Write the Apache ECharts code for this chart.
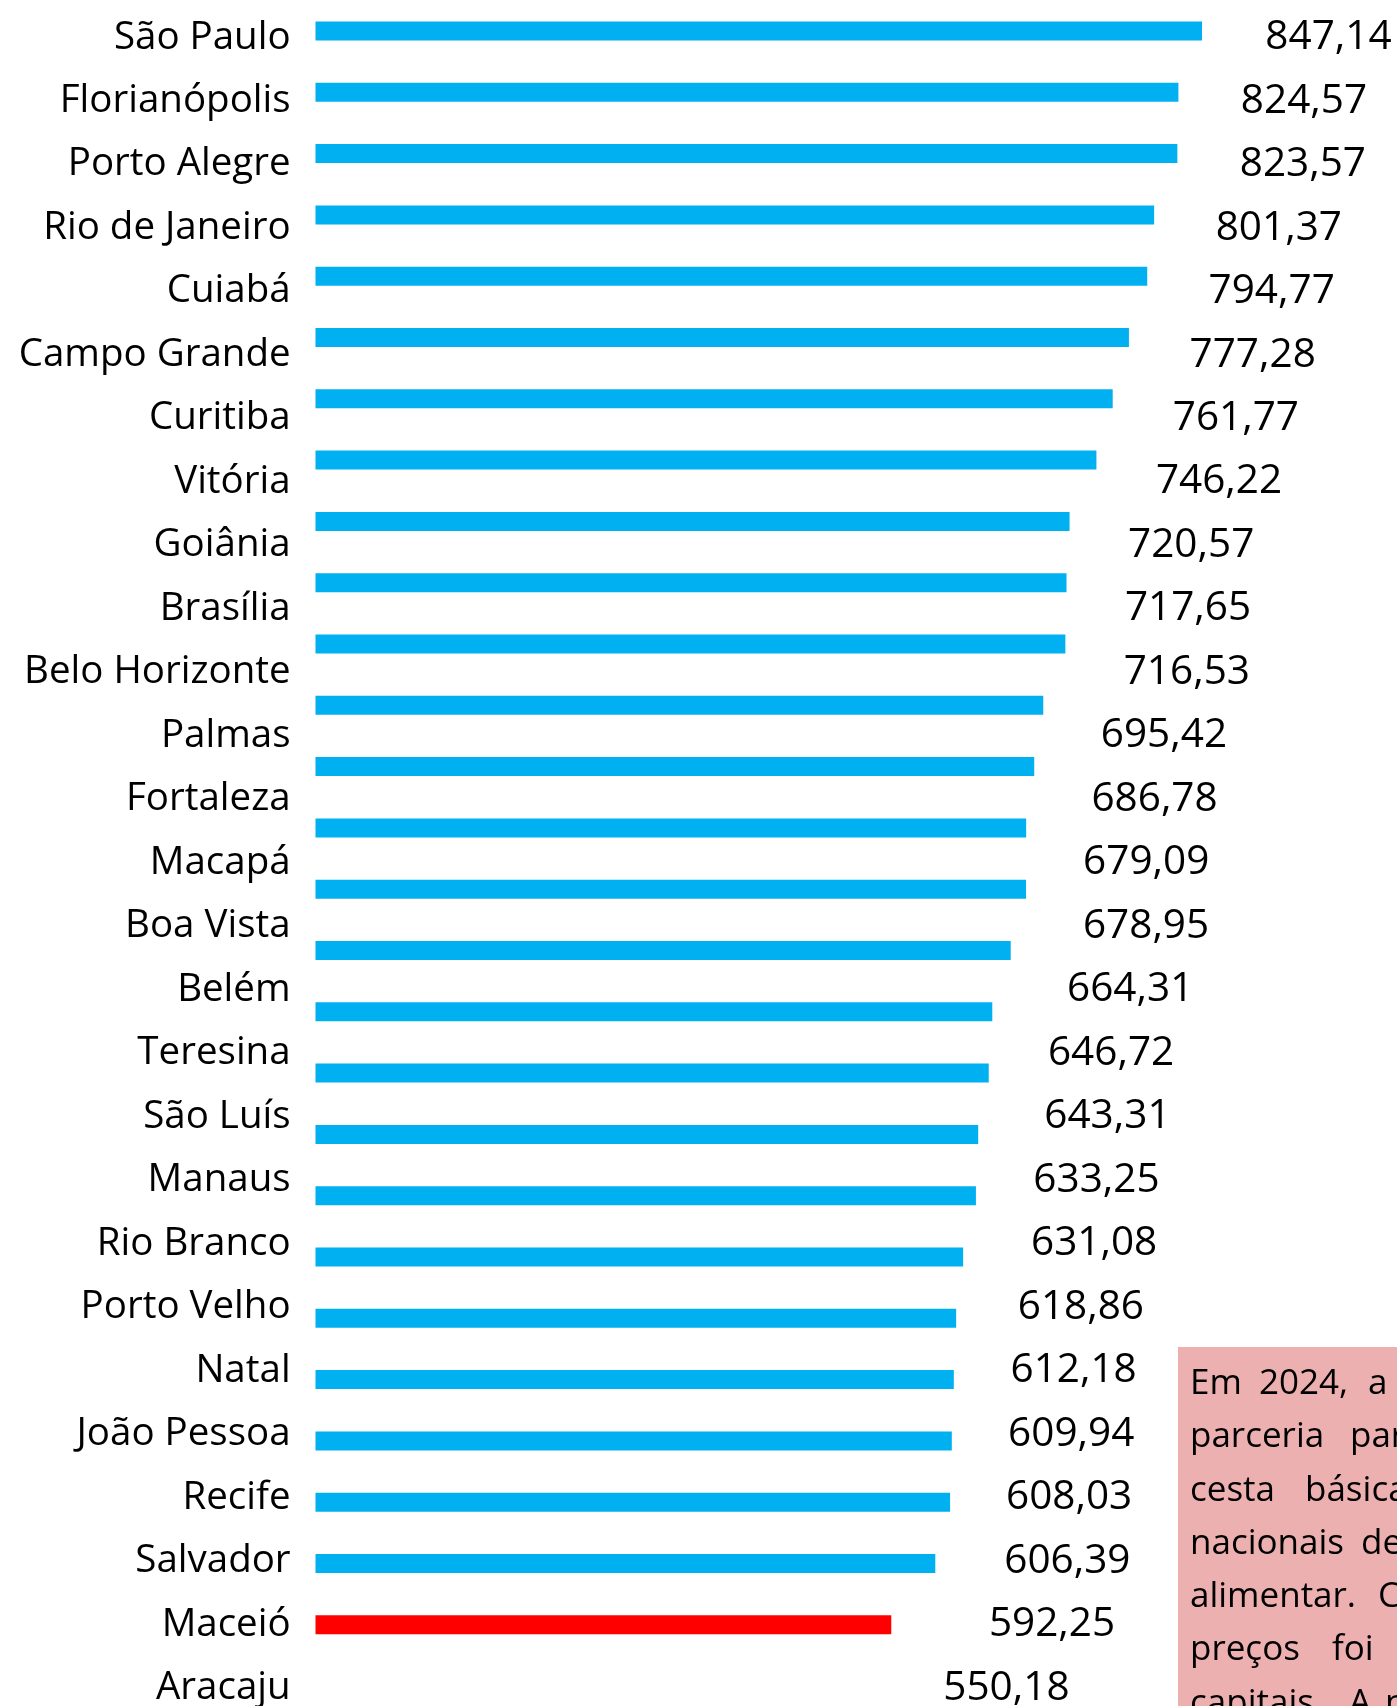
<!DOCTYPE html>
<html>
<head>
<meta charset="utf-8">
<script src="https://cdn.jsdelivr.net/npm/echarts@6/dist/echarts.min.js"></script>
<style>html,body{margin:0;padding:0;background:#fff}#c{width:1397px;height:1706px}</style>
</head>
<body>
<div id="c"></div>
<script>
const cities = ["São Paulo","Florianópolis","Porto Alegre","Rio de Janeiro","Cuiabá","Campo Grande","Curitiba","Vitória","Goiânia","Brasília","Belo Horizonte","Palmas","Fortaleza","Macapá","Boa Vista","Belém","Teresina","São Luís","Manaus","Rio Branco","Porto Velho","Natal","João Pessoa","Recife","Salvador","Maceió","Aracaju"];
const values = [847.14,824.57,823.57,801.37,794.77,777.28,761.77,746.22,720.57,717.65,716.53,695.42,686.78,679.09,678.95,664.31,646.72,643.31,633.25,631.08,618.86,612.18,609.94,608.03,606.39,592.25,550.18];
const highlightIndex = 26;
const noteLines = [
  ["Em","2024,","a","Conab"],
  ["parceria","para"],
  ["cesta","básica"],
  ["nacionais","de"],
  ["alimentar.","Com"],
  ["preços","foi"],
  ["capitais.","A","pesquisa"]
];
const noteWordX = [
  [1190,1259,1368,1400],
  [1190,1350],
  [1190,1305],
  [1190,1361],
  [1190,1378],
  [1190,1332],
  [1190,1349,1385]
];

const FONT = "'Open Sans', sans-serif";
const fmt = v => v.toFixed(2).replace('.', ',');

const chart = echarts.init(document.getElementById('c'), null, {renderer:'canvas'});

const graphics = [{
  type:'rect', shape:{x:1178, y:1347, width:260, height:400},
  style:{fill:'#EDB0B0'}, z:1
}];
noteLines.forEach((words, li) => {
  words.forEach((w, wi) => {
    graphics.push({
      type:'text', x:noteWordX[li][wi], y:1384 + li*53.3, z:2,
      style:{text:w, fill:'#000', font:`35px ${FONT}`, verticalAlign:'middle', align:'left'}
    });
  });
});

chart.setOption({
  animation:false,
  grid:[
    {left:315.5, top:0.35, width:1046.5, height:1655.1, outerBoundsMode:'none', containLabel:false},
    {left:346.6, top:5.8, width:1084.5, height:1714.2, outerBoundsMode:'none', containLabel:false}
  ],
  xAxis:[
    {gridIndex:0, type:'value', min:0, max:1000, show:false},
    {gridIndex:1, type:'value', min:0, max:1000, show:false}
  ],
  yAxis:[
    {gridIndex:0, type:'category', data:cities, inverse:true, show:false},
    {gridIndex:1, type:'category', data:cities, inverse:true,
     axisLine:{show:false}, axisTick:{show:false}, splitLine:{show:false},
     axisLabel:{margin:56, color:'#000', fontFamily:FONT, fontSize:38.5, align:'right', interval:0}}
  ],
  series:[
    {type:'bar', xAxisIndex:0, yAxisIndex:0, barWidth:19,
     data: values.map((v,i)=>({value:v, itemStyle:{color: i===highlightIndex ? '#FF0000' : '#00B0F0'}}))},
    {type:'scatter', xAxisIndex:1, yAxisIndex:1, symbolSize:0, symbol:'circle',
     itemStyle:{opacity:1},
     data: values,
     label:{show:true, position:'right', distance:0, color:'#000', opacity:1, fontFamily:FONT, fontSize:40.5,
            formatter: p => fmt(p.value)}}
  ],
  graphic: graphics
});
</script>
</body>
</html>
